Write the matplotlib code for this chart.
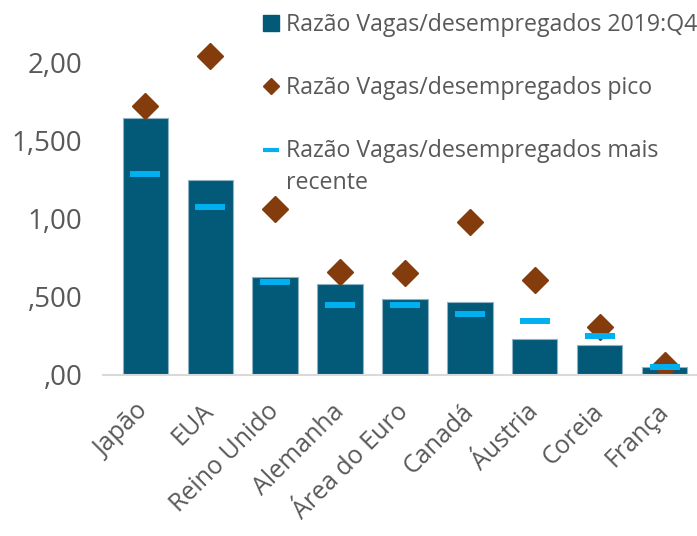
import matplotlib
matplotlib.use("Agg")
import matplotlib.pyplot as plt
from matplotlib.lines import Line2D

plt.rcParams['font.family'] = ['Open Sans', 'DejaVu Sans']

categories = ["Japão", "EUA", "Reino Unido", "Alemanha", "Área do Euro",
              "Canadá", "Áustria", "Coreia", "França"]
ratio_2019q4 = [1.643, 1.245, 0.626, 0.577, 0.481, 0.466, 0.225, 0.187, 0.046]
ratio_peak = [1.72, 2.038, 1.059, 0.656, 0.648, 0.974, 0.605, 0.306, 0.059]
ratio_recent = [1.285, 1.074, 0.594, 0.445, 0.445, 0.389, 0.344, 0.246, 0.05]
ytick_values = [0.0, 0.5, 1.0, 1.5, 2.0]
ytick_labels = [",00", ",500", "1,00", "1,500", "2,00"]
legend_labels = ["Razão Vagas/desempregados 2019:Q4",
                 "Razão Vagas/desempregados pico",
                 "Razão Vagas/desempregados mais\nrecente"]

bar_color = "#035A78"
peak_color = "#843C0C"
recent_color = "#00B0F0"
text_color = "#595959"

fig = plt.figure(figsize=(6.97, 5.36), dpi=100)
ax = fig.add_axes([0.148, 0.3013, 0.852, 0.6413])

x = list(range(len(categories)))
ax.bar(x, ratio_2019q4, width=0.7, color=bar_color, edgecolor="#8FB3C4",
       linewidth=0.8, zorder=2)
ax.plot(x, ratio_peak, linestyle="none", marker="D", markersize=13,
        color=peak_color, zorder=3)
ax.plot(x, ratio_recent, linestyle="none", marker="_", markersize=21.6,
        markeredgewidth=4.3, color=recent_color, zorder=4)

ax.set_xlim(-0.65, 8.5)
ax.set_ylim(0, 2.2)
ax.set_yticks(ytick_values)
ax.set_yticklabels(ytick_labels, fontsize=20, color=text_color)
ax.set_xticks(x)
ax.set_xticklabels(categories, fontsize=18, color=text_color, rotation=45,
                   ha="right", va="center", rotation_mode="anchor")
ax.tick_params(axis="y", length=0, pad=15)
ax.tick_params(axis="x", length=0, pad=24)
for s in ["top", "right", "left"]:
    ax.spines[s].set_visible(False)
ax.spines["bottom"].set_color("#D9D9D9")
ax.spines["bottom"].set_linewidth(1.5)
ax.spines["bottom"].set_zorder(5)

handles = [
    Line2D([], [], linestyle="none", marker="s", markersize=11.5, color=bar_color),
    Line2D([], [], linestyle="none", marker="D", markersize=8, color=peak_color),
    Line2D([], [], linestyle="none", marker="_", markersize=11,
           markeredgewidth=3, color=recent_color),
]
leg = fig.legend(handles, legend_labels, loc="upper left",
                 bbox_to_anchor=(0.377, 0.976), frameon=False, fontsize=16.7,
                 labelcolor=text_color, handlelength=0.7, handleheight=1.35,
                 handletextpad=0.3, labelspacing=1.6, borderpad=0.0,
                 borderaxespad=0.0)
for t in leg.get_texts():
    t.set_linespacing(1.45)
try:
    for col in leg._legend_handle_box.get_children():
        for item in col.get_children():
            item.align = "top"
except Exception:
    pass

fig.savefig("out.png", dpi=100)
